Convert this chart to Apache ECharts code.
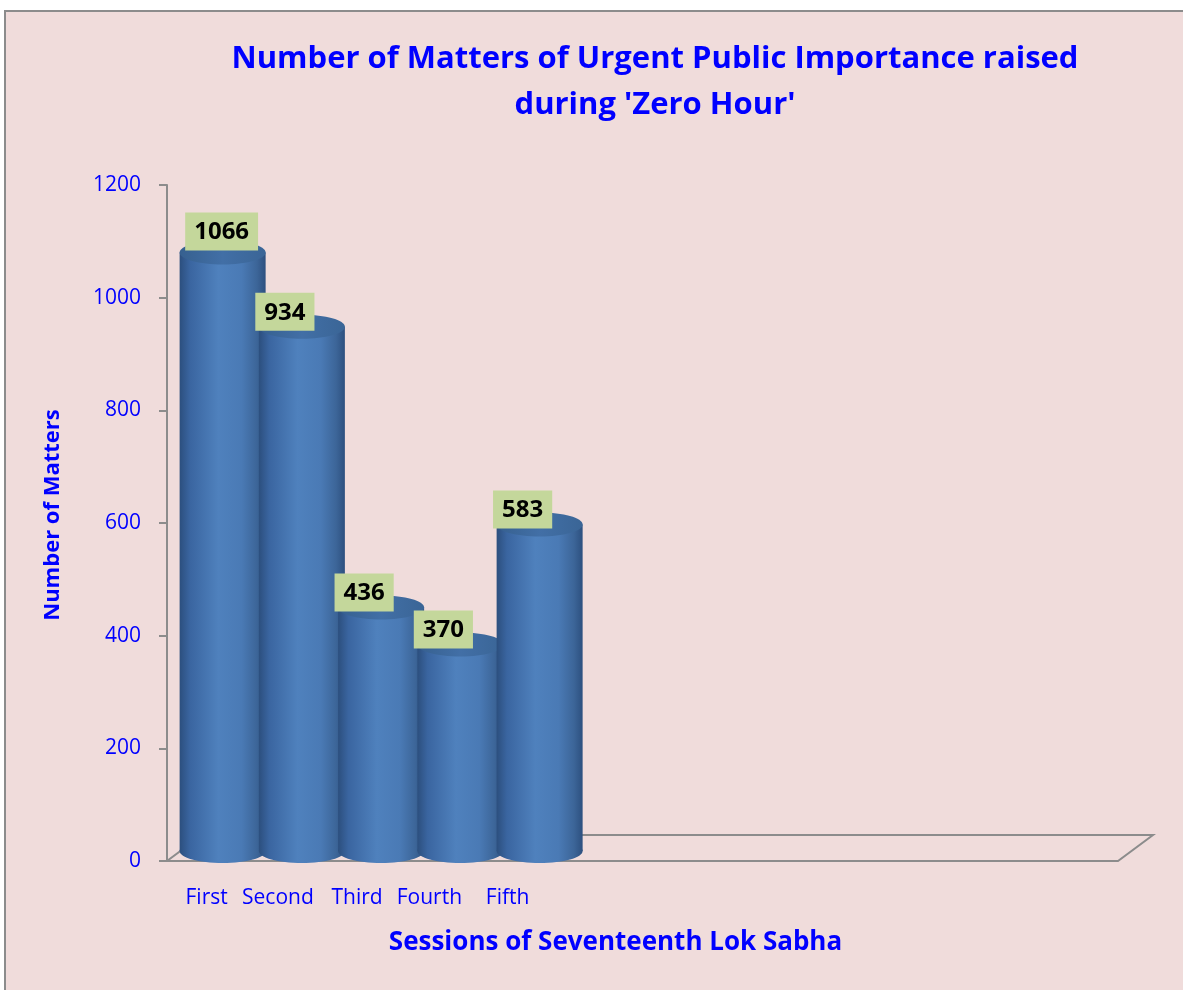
<!DOCTYPE html>
<html>
<head>
<meta charset="utf-8">
<title>Zero Hour</title>
<script src="https://cdn.jsdelivr.net/npm/echarts@6/dist/echarts.min.js"></script>
<style>
  html, body { margin: 0; padding: 0; background: #ffffff; }
  #main { width: 1183px; height: 990px; }
</style>
</head>
<body>
<div id="main"></div>
<script>
// sessions (only first five have data, rest of the floor is empty)
var sessions = ['First', 'Second', 'Third', 'Fourth', 'Fifth', '', '', '', '', '', '', ''];
var matters = [1066, 934, 436, 370, 583];
var yTicks = [0, 200, 400, 600, 800, 1000, 1200];

var blue = '#0000FF';
var font = 'Open Sans';

var chart = echarts.init(document.getElementById('main'), null, { renderer: 'canvas' });

// cylinder for each session
function renderCylinder(params, api) {
  var idx = api.value(0);
  var top = api.coord([idx, api.value(1)]);
  var base = api.coord([idx, 0]);
  var cx = top[0] + 16;
  var ty = top[1] - 8;
  var by = base[1] - 10;
  var rx = 43, ry = 12;

  var body = new echarts.graphic.LinearGradient(0, 0, 1, 0, [
    { offset: 0, color: '#2C4F7E' },
    { offset: 0.12, color: '#3A65A0' },
    { offset: 0.45, color: '#4F81BD' },
    { offset: 0.72, color: '#4A7AB5' },
    { offset: 0.9, color: '#3C6598' },
    { offset: 1, color: '#2D507F' }
  ]);
  var cap = new echarts.graphic.LinearGradient(0, 0, 1, 0, [
    { offset: 0, color: '#36608F' },
    { offset: 0.5, color: '#426FA6' },
    { offset: 1, color: '#3A6596' }
  ]);

  // first label sits clear of the axis
  var lx = params.dataIndex === 0 ? cx - 1 : cx - 17;
  var lyOff = params.dataIndex === 0 ? 10 : 4;

  return {
    type: 'group',
    children: [
      { type: 'ellipse', shape: { cx: cx, cy: by, rx: rx, ry: ry }, style: { fill: body } },
      { type: 'rect', shape: { x: cx - rx, y: ty, width: rx * 2, height: by - ty }, style: { fill: body } },
      { type: 'ellipse', shape: { cx: cx, cy: ty, rx: rx, ry: ry }, style: { fill: cap } },
      {
        type: 'text',
        z2: 10,
        style: {
          text: String(api.value(1)),
          x: lx,
          y: top[1] - lyOff,
          align: 'center',
          verticalAlign: 'bottom',
          font: 'bold 24px "' + font + '"',
          fill: '#000000',
          backgroundColor: '#C4D79B',
          padding: [8, 9, 6, 9]
        }
      }
    ]
  };
}

var labelShift = [0, 16, 16, 30, 32];
var rich = {};
labelShift.forEach(function (s, i) {
  rich['s' + i] = { fontFamily: font, fontSize: 21, color: blue, padding: [0, s, 0, 0] };
});

var option = {
  backgroundColor: '#ffffff',
  animation: false,
  graphic: [
    {
      type: 'rect',
      z: -10,
      shape: { x: 5, y: 11, width: 1200, height: 1000 },
      style: { fill: '#F0DCDB', stroke: '#8C8C8C', lineWidth: 2 }
    },
    {
      type: 'polygon',
      z: 0,
      shape: { points: [[167, 861], [1118, 861], [1153, 835], [202, 835]] },
      style: { fill: 'rgba(0,0,0,0)', stroke: '#8C8C8C', lineWidth: 2 }
    }
  ],
  title: {
    text: "Number of Matters of Urgent Public Importance raised\nduring 'Zero Hour'",
    left: 650,
    top: 31,
    textAlign: 'center',
    textStyle: {
      fontFamily: font,
      fontWeight: 'bold',
      fontSize: 31,
      lineHeight: 46,
      color: blue
    }
  },
  grid: { left: 167, right: 65, top: 185, bottom: 129 },
  xAxis: {
    type: 'category',
    data: sessions,
    name: 'Sessions of Seventeenth Lok Sabha',
    nameLocation: 'middle',
    nameGap: 69,
    nameTextStyle: {
      fontFamily: font,
      fontWeight: 'bold',
      fontSize: 26,
      color: blue,
      padding: [0, 54, 0, 0]
    },
    axisLine: { show: false },
    axisTick: { show: false },
    axisLabel: {
      interval: 0,
      margin: 27,
      formatter: function (v, i) {
        return v ? '{s' + i + '|' + v + '}' : '';
      },
      rich: rich
    },
    splitLine: { show: false }
  },
  yAxis: {
    type: 'value',
    min: yTicks[0],
    max: yTicks[yTicks.length - 1],
    interval: 200,
    name: 'Number of Matters',
    nameLocation: 'middle',
    nameGap: 103,
    nameTextStyle: {
      fontFamily: font,
      fontWeight: 'bold',
      fontSize: 22,
      color: blue,
      padding: [0, 0, 0, 16]
    },
    axisLine: { show: true, lineStyle: { color: '#8C8C8C', width: 2 } },
    axisTick: { show: true, inside: false, length: 8, lineStyle: { color: '#8C8C8C', width: 2 } },
    axisLabel: {
      margin: 26,
      fontFamily: font,
      fontSize: 21,
      color: blue,
      formatter: function (v) { return String(v); }
    },
    splitLine: { show: false }
  },
  series: [
    {
      type: 'custom',
      renderItem: renderCylinder,
      encode: { x: 0, y: 1 },
      data: matters.map(function (v, i) { return [i, v]; })
    }
  ]
};

chart.setOption(option);
</script>
</body>
</html>
